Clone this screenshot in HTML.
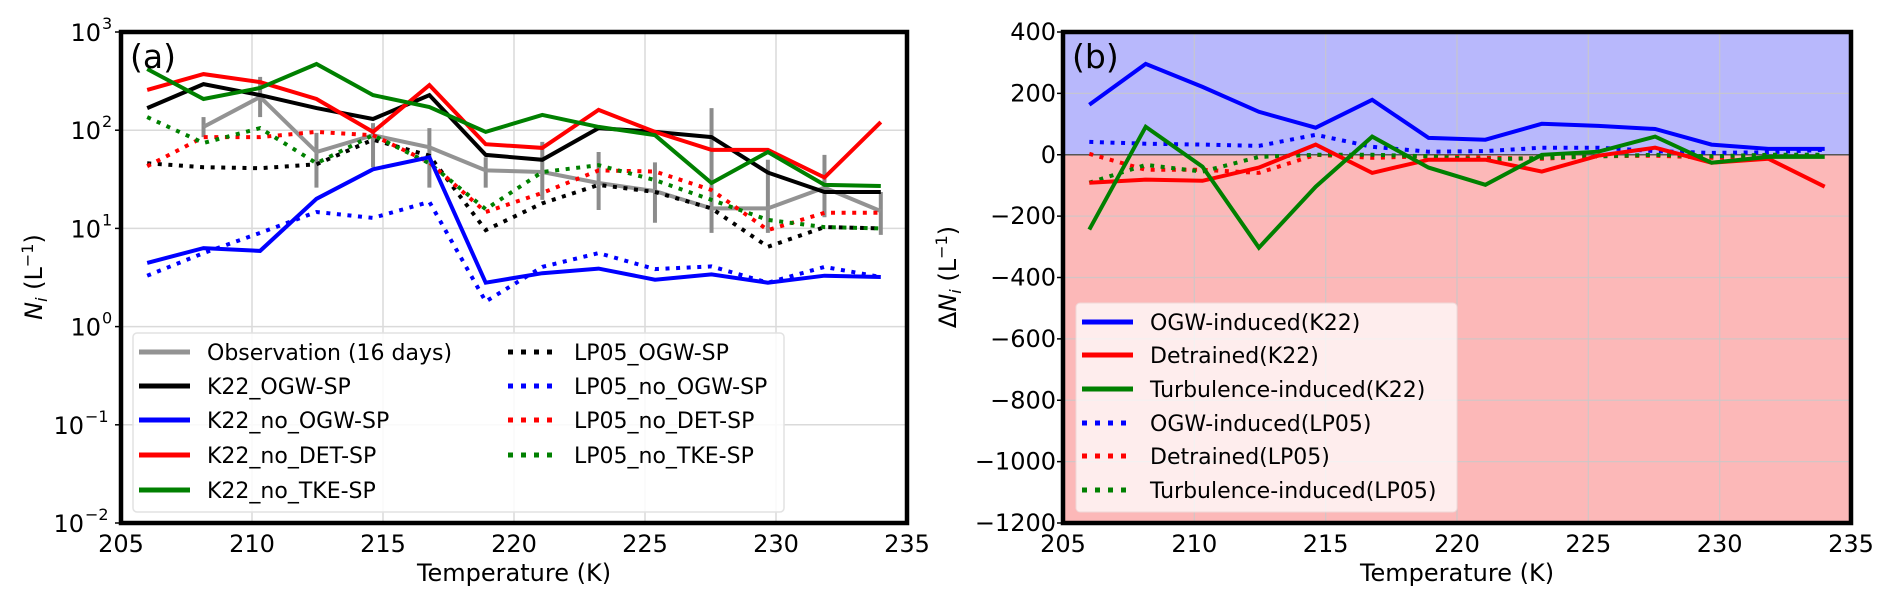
<!DOCTYPE html>
<html><head><meta charset="utf-8">
<style>
html,body{margin:0;padding:0;background:#fff;}
svg{display:block;font-family:"DejaVu Sans","Liberation Sans",sans-serif;}
</style></head>
<body>
<svg id="fig" width="1892" height="604" viewBox="0 0 1892 604" xmlns="http://www.w3.org/2000/svg"></svg>
<script>
// ---------- data ----------
const temps = [206,208.15,210.31,212.46,214.62,216.77,218.92,221.08,223.23,225.38,227.54,229.69,231.85,234];
// panel (a) Ni values (L^-1)
const obsVals = [null,108,218,60,89,67,39,37.5,29,24,16,16,26,15];
const obsErrHigh = [null,136,349,94,118,105,53,76,60,47,168,50,56,23.5];
const obsErrLow = [null,85,136,26,42,26,26,19.5,15.4,11.4,9,9,13,8.6];
const k22Ogw = [168,295,228,168,130,228,56,50,105,96,85,37,23.5,23.5];
const k22NoOgw = [4.45,6.3,5.9,20,40,53,2.8,3.5,3.9,3.0,3.4,2.8,3.3,3.2];
const k22NoDet = [257,373,309,208,96,288,72,66,161,96,63,63,33,121];
const k22NoTke = [420,208,269,472,228,172,96,143,108,89,29,60,27.7,27];
const lp05Ogw = [46,42,41,45,80,55,9.6,18,27.7,23.5,16,6.5,10.3,10];
const lp05NoOgw = [3.3,5.6,9,14.7,12.8,18.6,1.8,4.05,5.6,3.85,4.1,2.8,4.05,3.2];
const lp05NoDet = [43,85,85,96,89,47,14.7,23,39,38,24.6,9.6,14.4,14.4];
const lp05NoTke = [136,74,105,46,89,46,15.7,37.5,44,31,19.5,12.2,10.3,10];
// panel (b) delta Ni
const ogwK22 = [163,296,221,140,88,179,55,49,101,94,84,33,19,19];
const detK22 = [-91,-81,-85,-42,33,-59,-16,-16,-55,-3,23,-26,-13,-104];
const turbK22 = [-244,91,-39,-303,-104,59,-42,-98,0,10,59,-26,-7,-7];
const ogwLP05 = [42,36,33,29,65,26,10,12,23,23,12,6,8,16];
const detLP05 = [3,-49,-49,-59,0,-10,-5,-10,-13,-5,-3,-10,-5,-3];
const turbLP05 = [-91,-33,-55,-7,0,0,-5,-16,-10,-5,0,-5,0,0];
const xTicks = [205,210,215,220,225,230,235];
const yTicksA = [3,2,1,0,-1,-2];
const yTicksB = [400,200,0,-200,-400,-600,-800,-1000,-1200];

// ---------- helpers ----------
const NS="http://www.w3.org/2000/svg";
const svg=document.getElementById('fig');
function mk(tag,attrs,parent){const e=document.createElementNS(NS,tag);for(const k in attrs)e.setAttribute(k,attrs[k]);(parent||svg).appendChild(e);return e;}

const A={l:121,r:907,t:32,b:523};
const B={l:1063,r:1851,t:32,b:523};
function xA(T){return A.l+(T-205)/30*(A.r-A.l);}
function xB(T){return B.l+(T-205)/30*(B.r-B.l);}
function yA(v){return A.t+(3-Math.log10(v))/5*(A.b-A.t);}
function yB(v){return B.t+(400-v)/1600*(B.b-B.t);}

// ---------- panel (a) ----------
const gA=mk('g',{});


xTicks.forEach(t=>{
  const l=mk('line',{x1:xA(t),x2:xA(t),y1:A.t,y2:A.b,stroke:'#dadada','stroke-width':1.5},gA);
  
  
});
yTicksA.forEach(p=>{
  const l=mk('line',{x1:A.l,x2:A.r,y1:yA(Math.pow(10,p)),y2:yA(Math.pow(10,p)),stroke:'#dadada','stroke-width':1.5},gA);
  
  
});
function polyA(vals,color,dash,name){
  let d='';let started=false;
  vals.forEach((v,i)=>{if(v==null)return;d+=(started?'L':'M')+xA(temps[i]).toFixed(1)+','+yA(v).toFixed(1);started=true;});
  const p=mk('path',{d:d,fill:'none',stroke:color,'stroke-width':4,'stroke-linejoin':'miter'},gA);
  if(dash)p.setAttribute('stroke-dasharray','4 6.6');
  
  
}
obsVals.forEach((v,i)=>{
  if(v==null)return;
  const e=mk('line',{x1:xA(temps[i]),x2:xA(temps[i]),y1:yA(obsErrHigh[i]),y2:yA(obsErrLow[i]),stroke:'#8c8c8c','stroke-width':4},gA);
  
  
});
polyA(obsVals,'#939393',false,'line-observation');
polyA(lp05Ogw,'#000',true,'line-lp05-ogw-sp');
polyA(lp05NoOgw,'#0000ff',true,'line-lp05-no-ogw-sp');
polyA(lp05NoDet,'#ff0000',true,'line-lp05-no-det-sp');
polyA(lp05NoTke,'#008000',true,'line-lp05-no-tke-sp');
polyA(k22Ogw,'#000',false,'line-k22-ogw-sp');
polyA(k22NoOgw,'#0000ff',false,'line-k22-no-ogw-sp');
polyA(k22NoDet,'#ff0000',false,'line-k22-no-det-sp');
polyA(k22NoTke,'#008000',false,'line-k22-no-tke-sp');

const legA=mk('g',{},gA);


const lbA=mk('rect',{x:133,y:333,width:651,height:179,rx:4,fill:'#fff','fill-opacity':0.85,stroke:'#e2e2e2','stroke-width':1.5},legA);


const legItemsA=[
 [139,207,352,'#939393',false,'Observation (16 days)'],
 [139,207,386,'#000',false,'K22_OGW-SP'],
 [139,207,420,'#0000ff',false,'K22_no_OGW-SP'],
 [139,207,455,'#ff0000',false,'K22_no_DET-SP'],
 [139,207,490,'#008000',false,'K22_no_TKE-SP'],
 [508,574,352,'#000',true,'LP05_OGW-SP'],
 [508,574,386,'#0000ff',true,'LP05_no_OGW-SP'],
 [508,574,420,'#ff0000',true,'LP05_no_DET-SP'],
 [508,574,455,'#008000',true,'LP05_no_TKE-SP']];
legItemsA.forEach(it=>{
  const g=mk('g',{},legA);
  
  
  const l=mk('line',{x1:it[0],x2:it[0]+51,y1:it[2],y2:it[2],stroke:it[3],'stroke-width':5},g);
  if(it[4])l.setAttribute('stroke-dasharray','5 8');
  const t=mk('text',{x:it[1],y:it[2]+8,'font-size':22,fill:'#000'},g);
  t.textContent=it[5];
});

const fa=mk('rect',{x:A.l,y:A.t,width:A.r-A.l,height:A.b-A.t,fill:'none',stroke:'#000','stroke-width':4.5},gA);


xTicks.forEach(t=>{
  const tx=mk('text',{x:xA(t),y:552,'font-size':24,'text-anchor':'middle'},gA);
  tx.textContent=t;
  
  
});
yTicksA.forEach(p=>{
  const y=yA(Math.pow(10,p));
  mk('line',{x1:A.l-6,x2:A.l,y1:y,y2:y,stroke:'#000','stroke-width':1.5},gA);
  const baseEnd=p<0?84:101;
  const tx=mk('text',{x:baseEnd,y:y+9,'font-size':24,'text-anchor':'end'},gA);
  tx.textContent='10';
  
  
  const sp=mk('text',{x:baseEnd+1,y:y-3,'font-size':16},gA);
  sp.textContent=p<0?'\u2212'+(-p):String(p);
});
const xlA=mk('text',{x:(A.l+A.r)/2,y:581,'font-size':24,'text-anchor':'middle'},gA);
xlA.textContent='Temperature (K)';


const ylA=mk('text',{x:0,y:0,'font-size':24,'text-anchor':'middle',transform:'translate(42,277) rotate(-90)'},gA);
ylA.innerHTML='<tspan font-style="italic">N</tspan><tspan font-style="italic" font-size="16" dy="5">i</tspan><tspan dy="-5"> (L</tspan><tspan font-size="16" dy="-9">\u22121</tspan><tspan dy="9">)</tspan>';


const labA=mk('text',{x:130,y:68,'font-size':33},gA);
labA.textContent='(a)';



// ---------- panel (b) ----------
const gB=mk('g',{});


const bgTop=mk('rect',{x:B.l,y:B.t,width:B.r-B.l,height:yB(0)-B.t,fill:'#b8b8fc'},gB);


const bgBot=mk('rect',{x:B.l,y:yB(0),width:B.r-B.l,height:B.b-yB(0),fill:'#fcb8b8'},gB);


xTicks.forEach(t=>{
  const l=mk('line',{x1:xB(t),x2:xB(t),y1:B.t,y2:B.b,stroke:'#c8c8c8','stroke-width':1.3,'stroke-opacity':0.8},gB);
  
  
});
yTicksB.forEach(v=>{
  const l=mk('line',{x1:B.l,x2:B.r,y1:yB(v),y2:yB(v),stroke:'#c8c8c8','stroke-width':1.3,'stroke-opacity':0.8},gB);
  
  
});
const zl=mk('line',{x1:B.l,x2:B.r,y1:yB(0),y2:yB(0),stroke:'#555','stroke-width':1.5},gB);


function polyB(vals,color,dash,name){
  let d='';
  vals.forEach((v,i)=>{d+=(i?'L':'M')+xB(temps[i]).toFixed(1)+','+yB(v).toFixed(1);});
  const p=mk('path',{d:d,fill:'none',stroke:color,'stroke-width':4},gB);
  if(dash)p.setAttribute('stroke-dasharray','4 6.6');
  
  
}
polyB(ogwLP05,'#0000ff',true,'line-ogw-induced-lp05');
polyB(detLP05,'#ff0000',true,'line-detrained-lp05');
polyB(turbLP05,'#008000',true,'line-turbulence-induced-lp05');
polyB(ogwK22,'#0000ff',false,'line-ogw-induced-k22');
polyB(detK22,'#ff0000',false,'line-detrained-k22');
polyB(turbK22,'#008000',false,'line-turbulence-induced-k22');

const legB=mk('g',{},gB);


const lbB=mk('rect',{x:1076,y:303,width:381,height:209,rx:4,fill:'#fff','fill-opacity':0.75,stroke:'#f0d8d8','stroke-width':1},legB);


const legItemsB=[
 [322,'#0000ff',false,'OGW-induced(K22)'],
 [355,'#ff0000',false,'Detrained(K22)'],
 [389,'#008000',false,'Turbulence-induced(K22)'],
 [423,'#0000ff',true,'OGW-induced(LP05)'],
 [456,'#ff0000',true,'Detrained(LP05)'],
 [490,'#008000',true,'Turbulence-induced(LP05)']];
legItemsB.forEach(it=>{
  const g=mk('g',{},legB);
  
  
  const l=mk('line',{x1:1082,x2:1133,y1:it[0],y2:it[0],stroke:it[1],'stroke-width':5},g);
  if(it[2])l.setAttribute('stroke-dasharray','5 8');
  const t=mk('text',{x:1150,y:it[0]+8,'font-size':22},g);
  t.textContent=it[3];
});
const fb=mk('rect',{x:B.l,y:B.t,width:B.r-B.l,height:B.b-B.t,fill:'none',stroke:'#000','stroke-width':4.5},gB);


xTicks.forEach(t=>{
  const tx=mk('text',{x:xB(t),y:552,'font-size':24,'text-anchor':'middle'},gB);
  tx.textContent=t;
  
  
});
yTicksB.forEach(v=>{
  const y=yB(v);
  mk('line',{x1:B.l-6,x2:B.l,y1:y,y2:y,stroke:'#000','stroke-width':1.5},gB);
  const tx=mk('text',{x:B.l-7,y:y+8,'font-size':24,'text-anchor':'end'},gB);
  tx.textContent=v<0?'\u2212'+(-v):String(v);
  
  
});
const xlB=mk('text',{x:(B.l+B.r)/2,y:581,'font-size':24,'text-anchor':'middle'},gB);
xlB.textContent='Temperature (K)';


const ylB=mk('text',{x:0,y:0,'font-size':24,'text-anchor':'middle',transform:'translate(956,277) rotate(-90)'},gB);
ylB.innerHTML='\u0394<tspan font-style="italic">N</tspan><tspan font-style="italic" font-size="16" dy="5">i</tspan><tspan dy="-5"> (L</tspan><tspan font-size="16" dy="-9">\u22121</tspan><tspan dy="9">)</tspan>';


const labB=mk('text',{x:1072,y:68,'font-size':33},gB);
labB.textContent='(b)';


</script>
</body></html>
